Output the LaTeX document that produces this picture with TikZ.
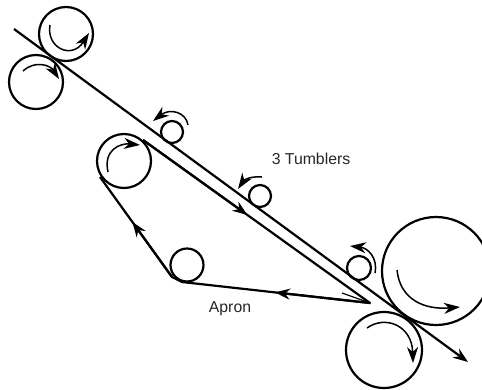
\documentclass[tikz,border=0pt]{standalone}
\usepackage{fontspec}
\setmainfont{Liberation Sans}
\usetikzlibrary{arrows.meta,calc}
\tikzset{
  roller/.style={circle,draw,line width=2.2pt,inner sep=0pt,outer sep=0pt},
  belt/.style={line width=2.2pt},
  spin/.style={line width=1.5pt,-{Stealth[length=16pt,width=11pt,inset=5pt]}},
  tip/.style={belt,-{Stealth[length=15pt,width=11pt,inset=5pt]}},
  lab/.style={font=\fontsize{15.8}{18}\selectfont,text=black!85}
}
\begin{document}
\begin{tikzpicture}[x=1pt,y=-1pt]
\useasboundingbox[fill=white] (0,0) rectangle (482,389);
% rollers
\node[roller,minimum size=54pt] (r1) at (66,34) {};
\node[roller,minimum size=54pt] (r2) at (36,82) {};
\node[roller,minimum size=22pt] (t1) at (172,132) {};
\node[roller,minimum size=22pt] (t2) at (260,196) {};
\node[roller,minimum size=24pt] (t3) at (359,268) {};
\node[roller,minimum size=54pt] (a1) at (124,161) {};
\node[roller,minimum size=33pt] (a2) at (187,265) {};
\node[roller,minimum size=108pt] (b1) at (436,271) {};
\node[roller,minimum size=76pt] (b2) at (384,350) {};
% belt corners
\coordinate (s) at (14,29);
\coordinate (e) at (468,362);
\coordinate (p1) at (143,140);
\coordinate (p2) at (370,303);
\coordinate (p3) at (182,282);
\coordinate (p5) at (172,277);
\coordinate (p4) at (100,177);
\coordinate (m1) at ($(p1)!0.46!(p2)$);
\coordinate (m2) at ($(p2)!0.505!(p3)$);
\coordinate (m3) at ($(p5)!0.55!(p4)$);
\coordinate (b) at (342,293);
% web
\draw[tip] (s) -- (e);
% apron
\draw[belt,line join=round] (p1) -- (p2) -- (p3) -- (p5) -- (p4);
\draw[tip] (p1) -- (m1);
\draw[tip] (p2) -- (m2);
\draw[tip] (p5) -- (m3);
\draw[line width=1.2pt] (b) -- (p2);
% rotation arrows
\draw[spin] (50,25) .. controls (46,48) and (72,60) .. (89,33);
\draw[spin] (23,71) .. controls (35,60) and (50,65) .. (59,79);
\draw[spin] (188,125) .. controls (186,112) and (170,108) .. (153,121);
\draw[spin] (108,172) .. controls (103,150) and (120,143) .. (140,145);
\draw[spin] (262,177) .. controls (250,176) and (244,180) .. (238,189);
\draw[spin] (375,273) .. controls (378,258) and (368,248) .. (350,246);
\draw[spin] (397,270) .. controls (400,300) and (425,310) .. (460,307);
\draw[spin] (367,328) .. controls (385,315) and (412,325) .. (413,363);
% labels
\node[lab] (l1) at (311,159) {3 Tumblers};
\node[lab] (l2) at (230,309) {Apron};
\end{tikzpicture}
\end{document}
